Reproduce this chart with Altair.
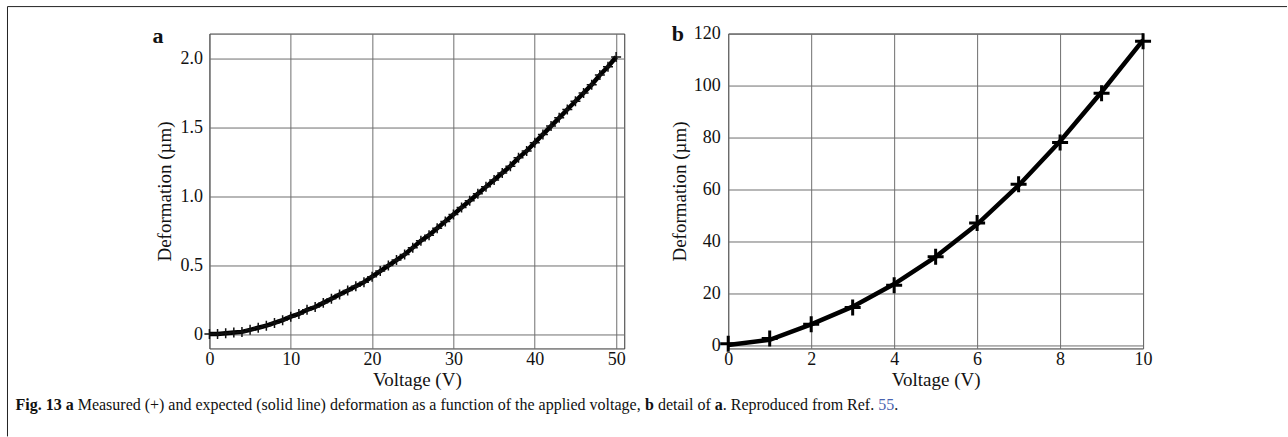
import altair as alt
import pandas as pd

# ---------------- data ----------------
voltage_a = list(range(51))
deform_a = [0.005, 0.005, 0.01, 0.015, 0.02, 0.035, 0.05, 0.065, 0.085, 0.105,
            0.13, 0.15, 0.18, 0.20, 0.23, 0.26, 0.29, 0.32, 0.35, 0.38,
            0.42, 0.46, 0.50, 0.54, 0.58, 0.63, 0.68, 0.72, 0.77, 0.82,
            0.87, 0.92, 0.97, 1.02, 1.07, 1.12, 1.17, 1.22, 1.28, 1.33,
            1.39, 1.45, 1.51, 1.57, 1.63, 1.69, 1.75, 1.81, 1.88, 1.94, 2.01]

voltage_b = list(range(11))
measured_b = [0.5, 2.5, 8, 14.5, 23, 34, 47, 62, 78, 97, 117]
expected_b = [0, 2, 8, 14.8, 23.5, 34, 46.5, 61.5, 78.5, 97.5, 117.5]

xticks_a = [0, 10, 20, 30, 40, 50]
yticks_a = [0, 0.5, 1.0, 1.5, 2.0]
xticks_b = [0, 2, 4, 6, 8, 10]
yticks_b = [0, 20, 40, 60, 80, 100, 120]

x_title = "Voltage (V)"
y_title = "Deformation (µm)"

caption_parts = [
    ("Fig. 13 ", "bold", "#111"),
    ("a", "bold", "#111"),
    (" Measured (+) and expected (solid line) deformation as a function of the applied voltage, ", "normal", "#111"),
    ("b", "bold", "#111"),
    (" detail of ", "normal", "#111"),
    ("a", "bold", "#111"),
    (". Reproduced from Ref. ", "normal", "#111"),
    ("55", "normal", "#4a63b0"),
    (".", "normal", "#111"),
]

# ---------------- layout helpers ----------------
FONT = "Liberation Serif"
W, H = 415, 315
PLUS = "M-1,0H1M0,-1V1"

REG = {' ': 250, 'a': 444, 'b': 500, 'c': 444, 'd': 500, 'e': 444, 'f': 333, 'g': 500,
       'h': 500, 'i': 278, 'l': 278, 'm': 778, 'n': 500, 'o': 500, 'p': 500, 'r': 333,
       's': 389, 't': 278, 'u': 500, 'v': 500, 'x': 500, 'y': 500, '(': 333, ')': 333,
       '+': 564, ',': 250, '.': 250, '5': 500, 'M': 889, 'R': 667}
BOLD = {'F': 611, 'i': 278, 'g': 500, '.': 250, ' ': 250, '1': 500, '3': 500, 'a': 500, 'b': 556}

CAP_SIZE = 16
CAP_X0 = 15 - 209      # relative to panel a left
CAP_Y = 410 - 33       # baseline relative to panel a top


def one():
    return alt.Data(values=[{}])


def text_layer(txt, x, y, size, weight="normal", color="#111", align="left"):
    return alt.Chart(one()).mark_text(
        text=txt, font=FONT, fontSize=size, fontWeight=weight, color=color,
        align=align, baseline="alphabetic"
    ).encode(x=alt.value(x), y=alt.value(y))


caption_layers = []
cx = CAP_X0
for txt, weight, color in caption_parts:
    table = BOLD if weight == "bold" else REG
    lead = len(txt) - len(txt.lstrip(" "))
    start = cx + lead * table[' '] / 1000 * CAP_SIZE
    caption_layers.append(text_layer(txt.strip(" "), start, CAP_Y, CAP_SIZE, weight, color))
    cx += sum(table.get(ch, 500) for ch in txt) / 1000 * CAP_SIZE

# frame (top and left edges of the figure box)
frame_top = alt.Chart(one()).mark_rule(color="#222", strokeWidth=1).encode(
    x=alt.value(7 - 209), x2=alt.value(1287 - 209), y=alt.value(6 - 33))
frame_left = alt.Chart(one()).mark_rule(color="#222", strokeWidth=1).encode(
    x=alt.value(7 - 209), y=alt.value(6 - 33), y2=alt.value(436 - 33))

axis_common = dict(grid=True, ticks=False, domain=False, labelFlush=False,
                   labelOverlap=False)

# ---------------- panel a ----------------
df_a = pd.DataFrame({"v": voltage_a, "d": deform_a})
xa = alt.X("v:Q", scale=alt.Scale(domain=[0, 51], nice=False, zero=False),
           axis=alt.Axis(values=xticks_a, title=x_title, labelPadding=2, titlePadding=2, **axis_common))
ya = alt.Y("d:Q", scale=alt.Scale(domain=[-0.1, 2.18], nice=False, zero=False),
           axis=alt.Axis(values=yticks_a, title=y_title, labelPadding=7, titlePadding=5,
                         labelExpr="datum.value == 0 ? '0' : format(datum.value, '.1f')",
                         **axis_common))

line_a = alt.Chart(df_a).mark_line(color="#000", strokeWidth=4.5).encode(x=xa, y=ya)
pts_a = alt.Chart(df_a).mark_point(shape=PLUS, size=100, filled=False, color="#111",
                                   strokeWidth=1.5, opacity=1).encode(x="v:Q", y="d:Q")
label_a = text_layer("a", 157.5 - 209, 42 - 33, 22, "bold", align="center")

panel_a = alt.layer(line_a, pts_a, label_a, frame_top, frame_left, *caption_layers).properties(
    width=W, height=H)

# ---------------- panel b ----------------
df_b = pd.DataFrame({"v": voltage_b, "m": measured_b, "e": expected_b})
xb = alt.X("v:Q", scale=alt.Scale(domain=[0, 10], nice=False, zero=False),
           axis=alt.Axis(values=xticks_b, title=x_title, labelPadding=2, titlePadding=2, **axis_common))
yb = alt.Y("e:Q", scale=alt.Scale(domain=[-1.3, 120], nice=False, zero=False),
           axis=alt.Axis(values=yticks_b, title=y_title, labelPadding=8, titlePadding=4, **axis_common))

line_b = alt.Chart(df_b).mark_line(color="#000", strokeWidth=4.5).encode(x=xb, y=yb)
pts_b = alt.Chart(df_b).mark_point(shape=PLUS, size=256, filled=False, color="#000",
                                   strokeWidth=3, opacity=1).encode(x="v:Q", y=alt.Y("m:Q"))
label_b = text_layer("b", 677.5 - 728, 40 - 33, 22, "bold", align="center")

panel_b = alt.layer(line_b, pts_b, label_b).properties(width=W, height=H)

chart = alt.hconcat(panel_a, panel_b, spacing=728 - 624).properties(
    bounds="flush",
    padding={"left": 6.5, "top": 5.5, "right": 0, "bottom": 0},
    background="white",
).configure_axis(
    labelFont=FONT, titleFont=FONT, labelFontSize=18, titleFontSize=19,
    titleFontWeight="normal", labelColor="#111", titleColor="#111",
    gridColor="#6e6e6e", gridWidth=1,
).configure_view(stroke="#333", strokeWidth=1)

chart.save("out.html", embed_options={"renderer": "svg", "actions": False})
